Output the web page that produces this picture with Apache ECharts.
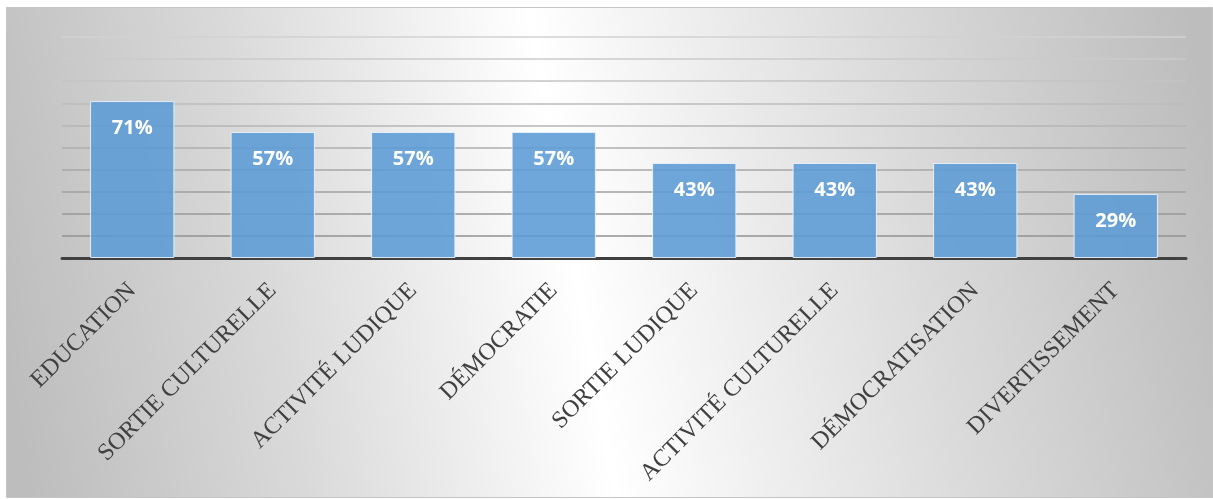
<!DOCTYPE html>
<html><head><meta charset="utf-8">
<script src="https://cdn.jsdelivr.net/npm/echarts@6/dist/echarts.min.js"></script>
<style>html,body{margin:0;padding:0;background:#fff}#c{width:1213px;height:499px}</style>
</head><body><div id="c"></div>
<script>
const categories = ['EDUCATION','SORTIE CULTURELLE','ACTIVITÉ LUDIQUE','DÉMOCRATIE','SORTIE LUDIQUE','ACTIVITÉ CULTURELLE','DÉMOCRATISATION','DIVERTISSEMENT'];
const values = [71, 57, 57, 57, 43, 43, 43, 29];
const yMin = 0, yMax = 100, yStep = 10;

const chart = echarts.init(document.getElementById('c'), null, {renderer:'canvas'});
chart.setOption({
  animation:false,
  backgroundColor:'#ffffff',
  graphic:[{
    type:'rect', z:-10, silent:true,
    shape:{x:6.5, y:7.5, width:1206, height:490},
    style:{
      fill:{type:'linear', x:0, y:0.72, x2:1, y2:0.28, colorStops:[
        {offset:0,color:'#bdbdbd'},{offset:0.22,color:'#d9d9d9'},{offset:0.47,color:'#ffffff'},
        {offset:0.74,color:'#dcdcdc'},{offset:1,color:'#bdbdbd'}]},
      stroke:'#c4c4c4', lineWidth:1
    }
  }],
  grid:{left:62, right:27, top:37, bottom:241, containLabel:false},
  xAxis:{
    type:'category', data:categories,
    axisTick:{show:false},
    axisLine:{lineStyle:{color:'#404040', width:3}},
    axisLabel:{rotate:45, interval:0, margin:29, fontFamily:'Liberation Serif', fontSize:24, color:'#404040'}
  },
  yAxis:{
    type:'value', min:yMin, max:yMax, interval:yStep,
    axisLabel:{show:false}, axisLine:{show:false}, axisTick:{show:false},
    splitLine:{lineStyle:{width:1.5, color:{type:'linear', x:0, y:37, x2:0, y2:258, global:true,
      colorStops:[{offset:0,color:'#d2d2d2'},{offset:1,color:'#8a8a8a'}]}}}
  },
  series:[{
    type:'bar', data:values, barCategoryGap:'40%',
    itemStyle:{color:'rgba(91,155,213,0.88)', borderColor:'rgba(235,243,250,0.9)', borderWidth:1},
    label:{show:true, position:'insideTop', distance:17, formatter:'{c}%', color:'#ffffff',
      fontFamily:'Open Sans', fontWeight:'bold', fontSize:20}
  }]
});
</script></body></html>
